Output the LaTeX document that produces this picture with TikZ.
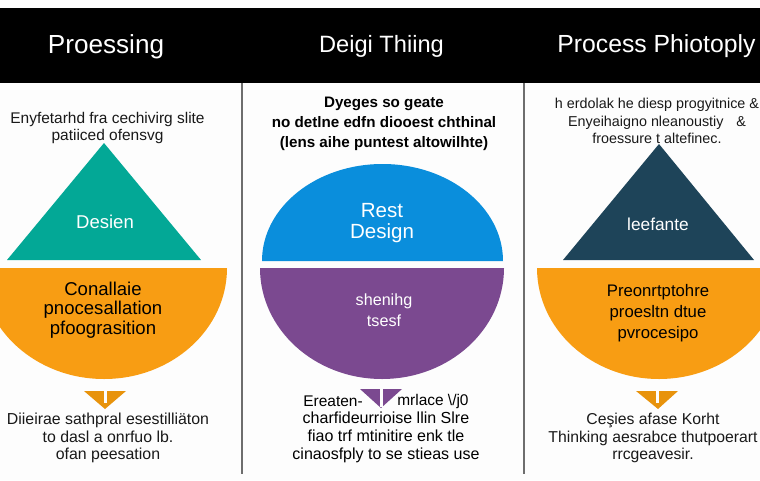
\documentclass[tikz,border=0pt]{standalone}
\usepackage{fontspec}
\setmainfont{Liberation Sans}
\usetikzlibrary{positioning, calc}
\definecolor{tealfill}{HTML}{03A896}
\definecolor{orangefill}{HTML}{F89D13}
\definecolor{orangetip}{HTML}{E8930C}
\definecolor{bluefill}{HTML}{0A8EDC}
\definecolor{purplefill}{HTML}{7B4990}
\definecolor{navyfill}{HTML}{1E4459}
\definecolor{rulegray}{HTML}{6E6E6E}
\definecolor{paperwhite}{HTML}{FDFDFD}
\tikzset{
  headtext/.style={text=white, inner sep=0pt, font=\fontsize{18.6}{22}\selectfont},
  bodytext/.style={inner sep=0pt, align=center, text=black!90, font=\fontsize{11}{12.4}\selectfont},
  boldtext/.style={inner sep=0pt, align=center, text=black, font=\fontsize{10.8}{14.2}\bfseries\selectfont},
  bigtext/.style={inner sep=0pt, align=center, text=black, font=\fontsize{13.2}{13.9}\selectfont},
  shapetext/.style={inner sep=0pt, align=center, text=white, font=\fontsize{13.2}{15}\selectfont}
}
\begin{document}
\begin{tikzpicture}[x=0.25mm, y=-0.25mm]
      \useasboundingbox (0, 0) rectangle (760, 480);
      \clip (0, 0) rectangle (760, 480);
      \fill[paperwhite] (0, 0) rectangle (760, 480);
      \fill[black] (0, 8) rectangle (760, 83);

      \draw[rulegray, line width=0.5mm] (241.5, 83) -- (241.5, 474);
      \draw[rulegray, line width=0.5mm] (523.5, 83) -- (523.5, 474);

      \fill[tealfill] (104, 143) -- (201, 260) -- (7, 260) -- cycle;
      \fill[orangefill] (-19, 268) -- (227, 268) arc[start angle=0, end angle=180, x radius=123, y radius=111] -- cycle;
      \fill[orangetip] (84, 391) -- (126, 391) -- (105, 409) -- cycle;
      \fill[paperwhite] (103.5, 391) rectangle (106.5, 403);

      \fill[bluefill] (262, 261) arc[start angle=180, end angle=0, x radius=120.5, y radius=-97] -- cycle;
      \fill[purplefill] (260, 268) -- (504, 268) arc[start angle=0, end angle=180, x radius=122, y radius=111] -- cycle;
      \fill[purplefill] (360, 389) -- (402, 389) -- (381, 408) -- cycle;
      \fill[paperwhite] (379.5, 389) rectangle (382.5, 407);

      \fill[navyfill] (659, 144) -- (754, 260) -- (563, 260) -- cycle;
      \fill[orangefill] (537, 268) -- (781, 268) arc[start angle=0, end angle=180, x radius=122, y radius=111] -- cycle;
      \fill[orangetip] (636, 391) -- (678, 391) -- (658, 409) -- cycle;
      \fill[paperwhite] (656, 391) rectangle (659, 403);

      \node[headtext] (headleft) at (106, 47) {Proessing};
      \node[headtext, font=\fontsize{16.8}{22}\selectfont] (headmid) at (381.5, 46) {Deigi Thiing};
      \node[headtext, font=\fontsize{17.6}{22}\selectfont] (headright) at (656.5, 46) {Process Phiotoply};

      \node[bodytext] (topleft) at (107.5, 128) {Enyfetarhd fra cechivirg slite\\patiiced ofensvg};
      \node[boldtext] (topmid) at (384, 124) {Dyeges so geate\\no detlne edfn diooest chthinal\\(lens aihe puntest altowilhte)};
      \node[bodytext, font=\fontsize{10.2}{12.2}\selectfont] (topright) at (657, 121) {h erdolak he diesp progyitnice \&\\Enyeihaigno nleanoustiy\, \, \&\\froessure t altefinec.};

      \node[shapetext] (tritealtext) at (105, 222) {Desien};
      \node[bigtext] (orangelefttext) at (103, 310) {Conallaie\\pnocesallation\\pfoograsition};
      \node[bodytext, font=\fontsize{11.3}{12.2}\selectfont] (botleft) at (108, 438) {Diieirae sathpral esestilliäton\\to dasl a onrfuo lb.\\ofan peesation};

      \node[shapetext, font=\fontsize{14.6}{15}\selectfont] (bluetext) at (382, 223) {Rest\\Design};
      \node[shapetext, font=\fontsize{11.5}{15}\selectfont] (purpletext) at (384, 310) {shenihg\\tsesf};
      \node[bodytext, anchor=east, text=black] (botmidone) at (363, 401) {Ereaten-};
      \node[bodytext, anchor=west, text=black] (botmidtwo) at (397, 401) {mrlace \textbackslash{}/j0};
      \node[bodytext, font=\fontsize{11.4}{12.6}\selectfont, text=black] (botmid) at (386, 437.5) {charfideurrioise llin Slre\\fiao trf mtinitire enk tle\\cinaosfply to se stieas use};

      \node[shapetext, font=\fontsize{12.3}{12}\selectfont] (tribluetext) at (658, 224) {leefante};
      \node[bigtext, font=\fontsize{11.9}{14.9}\selectfont] (orangerighttext) at (658, 313) {Preonrtptohre\\proesltn dtue\\pvrocesipo};
      \node[bodytext, font=\fontsize{11.2}{12.2}\selectfont] (botright) at (653, 438) {Ceşies afase Korht\\Thinking aesrabce thutpoerart\\rrcgeavesir.};

    \end{tikzpicture}
\end{document}
